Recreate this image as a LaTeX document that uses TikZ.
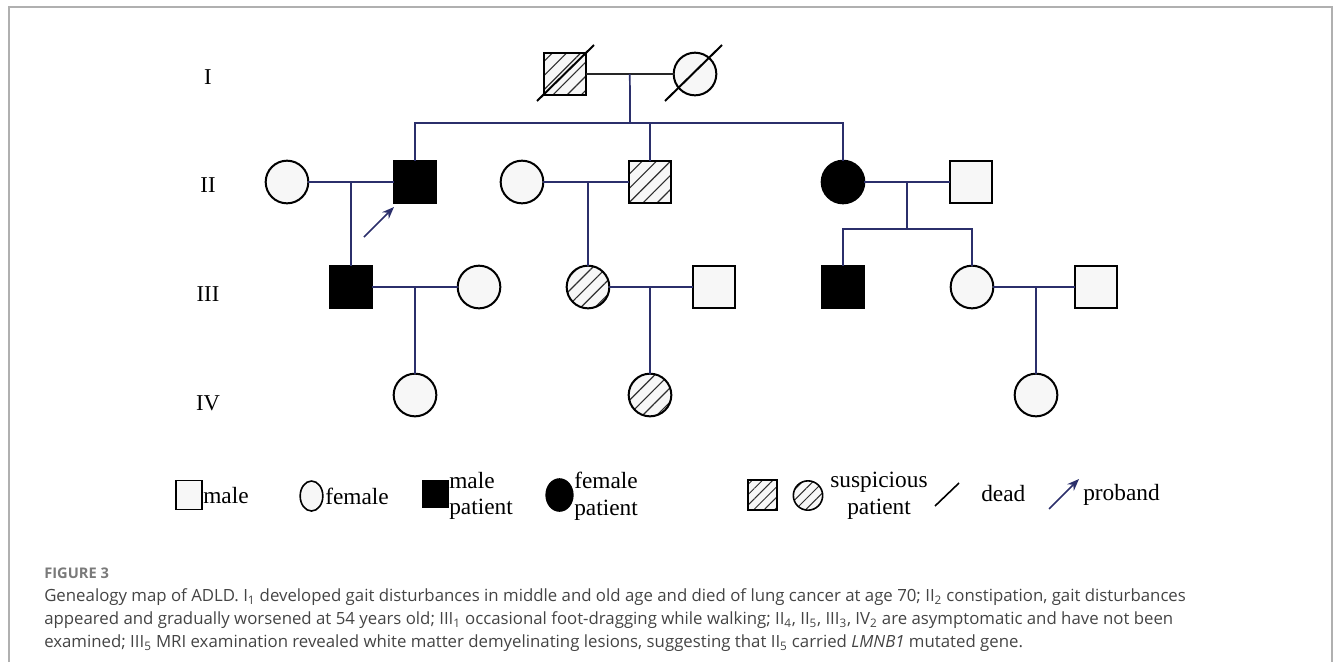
\documentclass[tikz,border=0pt]{standalone}
\usepackage{fontspec}
\setmainfont{Liberation Serif}
\newfontfamily\capfont{Open Sans}
\usetikzlibrary{shapes.geometric,patterns.meta,arrows.meta,calc}
\definecolor{conncol}{HTML}{2B2F6B}
\definecolor{fillc}{HTML}{F7F7F7}
\definecolor{hatchc}{HTML}{2E2E2E}
\definecolor{framec}{HTML}{B0B0B0}
\definecolor{figgray}{HTML}{7A7A7A}
\definecolor{captext}{HTML}{444444}
\begin{document}
\begin{tikzpicture}[x=0.75pt,y=-0.75pt,
  conn/.style={draw=conncol,line width=1.3pt},
  shp/.style={draw=black,line width=1.5pt,inner sep=0pt,outer sep=0pt,fill=fillc},
  sq/.style={shp,rectangle,minimum size=31.5pt},
  ci/.style={shp,circle,minimum size=32pt},
  aff/.style={fill=black},
  hat/.style={preaction={fill=fillc},pattern={Lines[angle=45,distance=7.5pt,line width=0.85pt]},pattern color=hatchc},
  hatl/.style={preaction={fill=fillc},pattern={Lines[angle=45,distance=5.5pt,line width=0.7pt]},pattern color=hatchc},
  gen/.style={font=\fontsize{17}{20}\selectfont,inner sep=0pt},
  leg/.style={font=\fontsize{17.5}{20}\selectfont,inner sep=0pt,align=left},
  deadline/.style={draw=black,line width=1.5pt},
  arr/.style={conn,-{Stealth[length=9pt,width=7pt]}}
]
\useasboundingbox (0,0) rectangle (1333,662);
% frame
\draw[framec,line width=1.1pt] (9,662) -- (9,7) -- (1332,7) -- (1332,662);

% generation labels
\node[gen] (gI) at (208,77) {I};
\node[gen] (gII) at (208,185) {II};
\node[gen] (gIII) at (208,294) {III};
\node[gen] (gIV) at (208,403) {IV};

% generation I
\node[sq,hat] (Ia) at (565,74) {};
\node[ci] (Ib) at (695,74) {};
% generation II
\node[ci] (IIa) at (287,182) {};
\node[sq,aff] (IIb) at (415,182) {};
\node[ci] (IIc) at (522,182) {};
\node[sq,hat] (IId) at (650,182) {};
\node[ci,aff] (IIe) at (843,182) {};
\node[sq] (IIf) at (971,182) {};
% generation III
\node[sq,aff] (IIIa) at (351,287) {};
\node[ci] (IIIb) at (479,287) {};
\node[ci,hat] (IIIc) at (588,287) {};
\node[sq] (IIId) at (714,287) {};
\node[sq,aff] (IIIe) at (843,287) {};
\node[ci] (IIIf) at (972,287) {};
\node[sq] (IIIg) at (1096,287) {};
% generation IV
\node[ci] (IVa) at (415,395) {};
\node[ci,hat] (IVb) at (650,395) {};
\node[ci] (IVc) at (1036,395) {};

% dead marks
\draw[deadline] ($(Ia)+(-28,27)$) -- ($(Ia)+(29,-29)$);
\draw[deadline] ($(Ib)+(-30,27)$) -- ($(Ib)+(27,-29)$);

% connectors generation I
\draw[conn,draw=black!85] (Ia.east) -- (Ib.west);
\coordinate (mI) at ($(Ia.east)!0.5!(Ib.west)$);
\coordinate (sI) at (630,123);
\draw[conn] (mI) -- (sI);
\draw[conn] (IIb.north) |- (sI) -| (IIe.north);
\draw[conn] (IId.north) -- (IId.north |- sI);

% connectors generation II
\draw[conn] (IIa.east) -- (IIb.west);
\coordinate (mIIa) at (351,182);
\draw[conn] (mIIa) -- (IIIa.north);
\draw[conn] (IIc.east) -- (IId.west);
\coordinate (mIIc) at (588,182);
\draw[conn] (mIIc) -- (IIIc.north);
\draw[conn] (IIe.east) -- (IIf.west);
\coordinate (mIIe) at (907,182);
\coordinate (sIIe) at (907,229);
\draw[conn] (mIIe) -- (sIIe);
\draw[conn] (IIIe.north) |- (sIIe) -| (IIIf.north);

% connectors generation III
\draw[conn] (IIIa.east) -- (IIIb.west);
\coordinate (mIIIa) at (415,287);
\draw[conn] (mIIIa) -- (IVa.north);
\draw[conn] (IIIc.east) -- (IIId.west);
\coordinate (mIIIc) at (650,287);
\draw[conn] (mIIIc) -- (IVb.north);
\draw[conn] (IIIf.east) -- (IIIg.west);
\coordinate (mIIIf) at (1036,287);
\draw[conn] (mIIIf) -- (IVc.north);

% proband arrow
\coordinate (prT) at (364,237);
\coordinate (prH) at (394,207);
\draw[arr] (prT) -- (prH);

% legend
\node[shp,rectangle,line width=1.2pt,minimum width=19.5pt,minimum height=21.5pt] (Lm) at (189,495) {};
\node[leg,anchor=west] (Lmt) at (203,496) {male};
\node[shp,ellipse,line width=1.2pt,minimum width=17pt,minimum height=22.5pt] (Lf) at (311.5,496) {};
\node[leg,anchor=west] (Lft) at (325,496) {female};
\node[shp,rectangle,aff,line width=1.2pt,minimum width=19pt,minimum height=20pt] (Lmp) at (435.5,494) {};
\node[leg,anchor=west] (Lmpt) at (449,496) {male\\patient};
\node[shp,ellipse,aff,line width=1.2pt,minimum width=20pt,minimum height=24pt] (Lfp) at (559.5,495) {};
\node[leg,anchor=west] (Lfpt) at (574,496) {female\\patient};
\node[shp,rectangle,hatl,line width=1.2pt,minimum width=21.5pt,minimum height=22.5pt] (Ls1) at (762.5,495) {};
\node[shp,circle,hatl,line width=1.2pt,minimum size=22pt] (Ls2) at (808,495.5) {};
\node[leg,align=center] (Lst) at (879,496) {suspicious\\patient};
\coordinate (Ld1) at (935,506);
\coordinate (Ld2) at (959,483);
\draw[draw=black,line width=1.2pt] (Ld1) -- (Ld2);
\node[leg,anchor=west] (Ldt) at (981,494) {dead};
\coordinate (Lp1) at (1049,509);
\coordinate (Lp2) at (1079,479);
\draw[arr,line width=1.1pt] (Lp1) -- (Lp2);
\node[leg,anchor=west] (Lpt) at (1083,495) {proband};

% caption
\node[anchor=west,inner sep=0pt,text=figgray,font=\capfont\bfseries\fontsize{11}{13}\selectfont] (figlab) at (44,573) {FIGURE 3};
\node[anchor=north west,inner sep=0pt,align=left,text=captext,font=\capfont\fontsize{12.6}{17.25}\selectfont] (cap) at (44,588)
{Genealogy map of ADLD. I\textsubscript{1} developed gait disturbances in middle and old age and died of lung cancer at age 70; II\textsubscript{2} constipation, gait disturbances\\
appeared and gradually worsened at 54 years old; III\textsubscript{1} occasional foot-dragging while walking; II\textsubscript{4}, II\textsubscript{5}, III\textsubscript{3}, IV\textsubscript{2} are asymptomatic and have not been\\
examined; III\textsubscript{5} MRI examination revealed white matter demyelinating lesions, suggesting that II\textsubscript{5} carried \textit{LMNB1} mutated gene.};
\end{tikzpicture}
\end{document}
